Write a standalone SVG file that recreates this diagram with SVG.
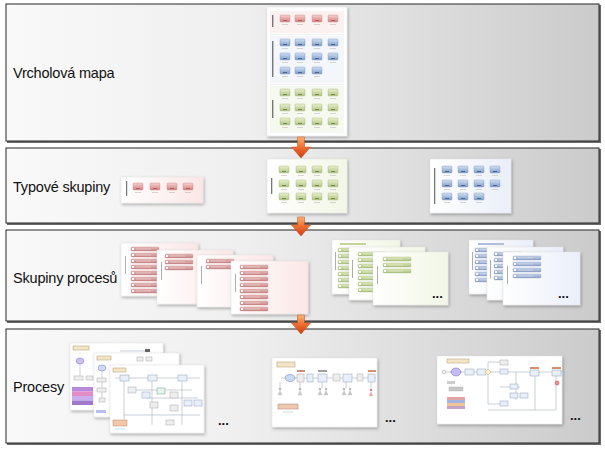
<svg xmlns="http://www.w3.org/2000/svg" xmlns:xlink="http://www.w3.org/1999/xlink" width="605" height="452" viewBox="0 0 605 452">
<style>
.band{fill:url(#bandG);stroke:#262626;stroke-width:1}
.bsh{fill:#6a6a6a}
.lbl{font-family:"Liberation Sans",Arial,sans-serif;font-size:14.5px;fill:#111;letter-spacing:-0.2px}
.dots{font-family:"Liberation Sans",Arial,sans-serif;font-size:13px;font-weight:bold;fill:#111}
.page{fill:#fff;stroke:#e2e2e2;stroke-width:0.5;filter:url(#sh)}
.vbar{fill:#777}
.fl{stroke:#aab4be;stroke-width:0.6;fill:none}
.bx{fill:#e8eff8;stroke:#8aa0bc;stroke-width:0.5}
.gx{fill:#eeeeee;stroke:#a8a8a8;stroke-width:0.5}
.tag{fill:#f3e6c8;stroke:#b09868;stroke-width:0.5}
.cap{stroke:#c4c4c4;stroke-width:0.7}
.arrow{fill:url(#arG);stroke:#c8481a;stroke-width:0.5}
</style>
<defs>
<linearGradient id="bandG" x1="0" y1="0" x2="1" y2="0">
<stop offset="0" stop-color="#f9f9f9"/><stop offset="0.4" stop-color="#efefef"/><stop offset="1" stop-color="#cbcbcb"/>
</linearGradient>
<linearGradient id="arG" x1="0" y1="0" x2="0" y2="1">
<stop offset="0" stop-color="#f7b47a"/><stop offset="0.45" stop-color="#f07434"/><stop offset="1" stop-color="#cf3a12"/>
</linearGradient>
<linearGradient id="gR" x1="0" y1="0" x2="0" y2="1"><stop offset="0" stop-color="#f8d0d0"/><stop offset="1" stop-color="#d88080"/></linearGradient>
<linearGradient id="gB" x1="0" y1="0" x2="0" y2="1"><stop offset="0" stop-color="#d2e0f2"/><stop offset="1" stop-color="#7e9cca"/></linearGradient>
<linearGradient id="gG" x1="0" y1="0" x2="0" y2="1"><stop offset="0" stop-color="#e8f0cc"/><stop offset="1" stop-color="#b0c486"/></linearGradient>
<linearGradient id="pR" x1="0" y1="0" x2="1" y2="0"><stop offset="0" stop-color="#ffffff"/><stop offset="1" stop-color="#fbe6e6"/></linearGradient>
<linearGradient id="pG" x1="0" y1="0" x2="1" y2="0"><stop offset="0" stop-color="#ffffff"/><stop offset="1" stop-color="#f2f6e6"/></linearGradient>
<linearGradient id="pB" x1="0" y1="0" x2="1" y2="0"><stop offset="0" stop-color="#ffffff"/><stop offset="1" stop-color="#eaeff8"/></linearGradient>
<linearGradient id="bR" x1="0" y1="0" x2="0" y2="1"><stop offset="0" stop-color="#e8baba"/><stop offset="1" stop-color="#c88686"/></linearGradient>
<linearGradient id="bG" x1="0" y1="0" x2="0" y2="1"><stop offset="0" stop-color="#dce8b8"/><stop offset="1" stop-color="#aac07e"/></linearGradient>
<linearGradient id="bB" x1="0" y1="0" x2="0" y2="1"><stop offset="0" stop-color="#c8d4ea"/><stop offset="1" stop-color="#8ca0c8"/></linearGradient>
<filter id="sh" x="-20%" y="-20%" width="140%" height="140%">
<feDropShadow dx="1" dy="1.5" stdDeviation="1.6" flood-color="#000" flood-opacity="0.3"/>
</filter>
<g id="icR"><rect x="0" y="0" width="10" height="7" rx="1" fill="url(#gR)" stroke="#c88484" stroke-width="0.4"/><rect x="3" y="5" width="4" height="1" fill="#a06868"/><line x1="2" y1="9.5" x2="8" y2="9.5" class="cap"/></g>
<g id="icB"><rect x="0" y="0" width="10" height="7" rx="1" fill="url(#gB)" stroke="#7890b8" stroke-width="0.4"/><rect x="3" y="5" width="4" height="1" fill="#506488"/><line x1="2" y1="9.5" x2="8" y2="9.5" class="cap"/></g>
<g id="icG"><rect x="0" y="0" width="10" height="7" rx="1" fill="url(#gG)" stroke="#a2b47a" stroke-width="0.4"/><rect x="3" y="5" width="4" height="1" fill="#768a50"/><line x1="2" y1="9.5" x2="8" y2="9.5" class="cap"/></g>
<g id="barR"><rect x="0" y="0" width="28" height="4" rx="1" fill="url(#bR)" stroke="#b87878" stroke-width="0.3"/><rect x="1" y="1" width="2" height="2" fill="#fff"/><line x1="5" y1="2" x2="20" y2="2" stroke="#f6e4e4" stroke-width="0.5"/></g>
<g id="barG"><rect x="0" y="0" width="28" height="4" rx="1" fill="url(#bG)" stroke="#98ac6c" stroke-width="0.3"/><rect x="1" y="1" width="2" height="2" fill="#fff"/><line x1="5" y1="2" x2="20" y2="2" stroke="#f0f6e0" stroke-width="0.5"/></g>
<g id="barB"><rect x="0" y="0" width="28" height="4" rx="1" fill="url(#bB)" stroke="#7a8eb8" stroke-width="0.3"/><rect x="1" y="1" width="2" height="2" fill="#fff"/><line x1="5" y1="2" x2="20" y2="2" stroke="#eaeff8" stroke-width="0.5"/></g>
<g id="fig"><circle cx="0" cy="0" r="1.3" fill="#bbb"/><path d="M-2,6 L0,1.5 L2,6 Z" fill="#ccc" stroke="#aaa" stroke-width="0.3"/></g>
</defs>

<!-- Band 1 -->
<g id="band-vrcholova-mapa">
<rect class="bsh" x="7" y="5" width="594" height="138"/>
<rect class="band" x="6" y="4" width="593" height="137"/>
<text class="lbl" x="13" y="78">Vrcholová mapa</text>
<g id="top-map-page">
<rect class="page" x="267" y="7" width="80" height="129"/>
<rect x="270" y="11" width="74" height="22" fill="#fcf1f1"/>
<rect x="270" y="36" width="74" height="47" fill="#f3f6fb"/>
<rect x="270" y="86" width="74" height="47" fill="#f6f9ef"/>
<line x1="270" y1="34.5" x2="344" y2="34.5" stroke="#e4e4e4" stroke-width="0.6"/>
<line x1="270" y1="84.5" x2="344" y2="84.5" stroke="#e4e4e4" stroke-width="0.6"/>
<rect class="vbar" x="272" y="15" width="1.4" height="12"/>
<rect class="vbar" x="272" y="41" width="1.4" height="36"/>
<rect class="vbar" x="272" y="100" width="1.4" height="18"/>
<use href="#icR" x="280" y="15"/><use href="#icR" x="295" y="15"/><use href="#icR" x="312" y="15"/><use href="#icR" x="328" y="15"/>
<use href="#icB" x="280" y="39"/><use href="#icB" x="295" y="39"/><use href="#icB" x="312" y="39"/><use href="#icB" x="328" y="39"/>
<use href="#icB" x="280" y="53"/><use href="#icB" x="295" y="53"/><use href="#icB" x="312" y="53"/><use href="#icB" x="328" y="53"/>
<use href="#icB" x="280" y="67"/><use href="#icB" x="295" y="67"/><use href="#icB" x="312" y="67"/>
<use href="#icG" x="280" y="89"/><use href="#icG" x="295" y="89"/><use href="#icG" x="312" y="89"/><use href="#icG" x="328" y="89"/>
<use href="#icG" x="280" y="104"/><use href="#icG" x="295" y="104"/><use href="#icG" x="312" y="104"/><use href="#icG" x="328" y="104"/>
<use href="#icG" x="280" y="118"/><use href="#icG" x="295" y="118"/><use href="#icG" x="312" y="118"/><use href="#icG" x="328" y="118"/>
</g>
</g>

<!-- Band 2 -->
<g id="band-typove-skupiny">
<rect class="bsh" x="7" y="149" width="594" height="76"/>
<rect class="band" x="6" y="148" width="593" height="75"/>
<text class="lbl" x="13" y="192">Typové skupiny</text>
<g id="group-red">
<rect class="page" x="121" y="177" width="82" height="26" style="fill:url(#pR)"/>
<rect class="vbar" x="126" y="181" width="1.2" height="15"/>
<use href="#icR" x="133" y="183"/><use href="#icR" x="150" y="183"/><use href="#icR" x="167" y="183"/><use href="#icR" x="183" y="183"/>
</g>
<g id="group-green">
<rect class="page" x="267" y="159" width="80" height="54" style="fill:url(#pG)"/>
<rect class="vbar" x="271" y="178" width="1.3" height="16"/>
<use href="#icG" x="279" y="166"/><use href="#icG" x="296" y="166"/><use href="#icG" x="312" y="166"/><use href="#icG" x="328" y="166"/>
<use href="#icG" x="279" y="180"/><use href="#icG" x="296" y="180"/><use href="#icG" x="312" y="180"/><use href="#icG" x="328" y="180"/>
<use href="#icG" x="279" y="193"/><use href="#icG" x="296" y="193"/><use href="#icG" x="312" y="193"/><use href="#icG" x="328" y="193"/>
</g>
<g id="group-blue">
<rect class="page" x="430" y="159" width="81" height="54" style="fill:url(#pB)"/>
<rect class="vbar" x="434" y="168" width="1.3" height="36"/>
<use href="#icB" x="442" y="166"/><use href="#icB" x="458" y="166"/><use href="#icB" x="474" y="166"/><use href="#icB" x="490" y="166"/>
<use href="#icB" x="442" y="180"/><use href="#icB" x="458" y="180"/><use href="#icB" x="474" y="180"/><use href="#icB" x="490" y="180"/>
<use href="#icB" x="442" y="193"/><use href="#icB" x="458" y="193"/><use href="#icB" x="474" y="193"/>
</g>
</g>

<!-- Band 3 -->
<g id="band-skupiny-procesu">
<rect class="bsh" x="7" y="231" width="594" height="92"/>
<rect class="band" x="6" y="230" width="593" height="91"/>
<text class="lbl" x="13" y="283">Skupiny procesů</text>
<g id="proc-groups-red">
<rect class="page" x="121" y="243" width="77" height="53" style="fill:url(#pR)"/>
<rect class="vbar" x="125" y="256" width="0.8" height="18" style="fill:#999"/>
<use href="#barR" x="131" y="247"/><use href="#barR" x="131" y="253"/><use href="#barR" x="131" y="259"/><use href="#barR" x="131" y="265"/><use href="#barR" x="131" y="271"/><use href="#barR" x="131" y="277"/><use href="#barR" x="131" y="283"/><use href="#barR" x="131" y="289"/>
<rect class="page" x="157" y="250" width="76" height="54" style="fill:url(#pR)"/>
<rect class="vbar" x="161" y="262" width="0.8" height="18" style="fill:#999"/>
<use href="#barR" x="165" y="254"/><use href="#barR" x="165" y="260"/><use href="#barR" x="165" y="266"/>
<rect class="page" x="197" y="255" width="76" height="52" style="fill:url(#pR)"/>
<rect class="vbar" x="201" y="266" width="0.8" height="18" style="fill:#999"/>
<use href="#barR" x="206" y="259"/><use href="#barR" x="206" y="265"/>
<rect class="page" x="231" y="261" width="77" height="53" style="fill:url(#pR)"/>
<rect class="vbar" x="235" y="274" width="0.8" height="18" style="fill:#999"/>
<use href="#barR" x="240" y="265"/><use href="#barR" x="240" y="271"/><use href="#barR" x="240" y="277"/><use href="#barR" x="240" y="283"/><use href="#barR" x="240" y="289"/><use href="#barR" x="240" y="295"/><use href="#barR" x="240" y="301"/><use href="#barR" x="240" y="307"/>
</g>
<g id="proc-groups-green">
<rect class="page" x="332" y="240" width="68" height="54" style="fill:url(#pG)"/>
<rect class="vbar" x="335" y="252" width="0.8" height="18" style="fill:#999"/>
<rect x="340" y="243" width="26" height="2" fill="#c4d49c"/>
<use href="#barG" x="338" y="248"/><use href="#barG" x="338" y="254"/><use href="#barG" x="338" y="260"/><use href="#barG" x="338" y="266"/><use href="#barG" x="338" y="272"/><use href="#barG" x="338" y="278"/><use href="#barG" x="338" y="284"/>
<rect class="page" x="349" y="247" width="76" height="53" style="fill:url(#pG)"/>
<rect class="vbar" x="352" y="260" width="0.8" height="18" style="fill:#999"/>
<use href="#barG" x="358" y="252"/><use href="#barG" x="358" y="258"/><use href="#barG" x="358" y="264"/><use href="#barG" x="358" y="270"/><use href="#barG" x="358" y="276"/><use href="#barG" x="358" y="282"/><use href="#barG" x="358" y="288"/>
<rect class="page" x="373" y="252" width="75" height="53" style="fill:url(#pG)"/>
<rect class="vbar" x="377" y="266" width="0.8" height="18" style="fill:#999"/>
<use href="#barG" x="383" y="257"/><use href="#barG" x="383" y="263"/><use href="#barG" x="383" y="269"/>
<text class="dots" x="432" y="298">...</text>
</g>
<g id="proc-groups-blue">
<rect class="page" x="469" y="240" width="64" height="54" style="fill:url(#pB)"/>
<rect class="vbar" x="472" y="252" width="0.8" height="18" style="fill:#999"/>
<rect x="478" y="243" width="26" height="2" fill="#b0bedc"/>
<use href="#barB" x="475" y="248"/><use href="#barB" x="475" y="254"/><use href="#barB" x="475" y="260"/><use href="#barB" x="475" y="266"/><use href="#barB" x="475" y="272"/><use href="#barB" x="475" y="278"/>
<rect class="page" x="487" y="247" width="76" height="53" style="fill:url(#pB)"/>
<rect class="vbar" x="490" y="260" width="0.8" height="18" style="fill:#999"/>
<use href="#barB" x="494" y="252"/><use href="#barB" x="494" y="258"/><use href="#barB" x="494" y="264"/><use href="#barB" x="494" y="270"/><use href="#barB" x="494" y="276"/>
<rect class="page" x="503" y="252" width="77" height="53" style="fill:url(#pB)"/>
<rect class="vbar" x="507" y="266" width="0.8" height="18" style="fill:#999"/>
<use href="#barB" x="513" y="256"/><use href="#barB" x="513" y="262"/><use href="#barB" x="513" y="268"/><use href="#barB" x="513" y="274"/>
<text class="dots" x="558" y="298">...</text>
</g>
</g>

<!-- Band 4 -->
<g id="band-procesy">
<rect class="bsh" x="7" y="330" width="594" height="115"/>
<rect class="band" x="6" y="329" width="593" height="114"/>
<text class="lbl" x="13" y="392">Procesy</text>
<g id="processes-stack">
<rect class="page" x="70" y="343" width="93" height="67"/>
<rect class="tag" x="73" y="346" width="16" height="4"/>
<ellipse cx="80" cy="361" rx="4" ry="3" fill="#cfc0f2" stroke="#7d6cc0" stroke-width="0.5"/>
<line class="fl" x1="80" y1="364" x2="80" y2="376"/>
<rect class="gx" x="74" y="376" width="9" height="4"/>
<rect class="gx" x="86" y="376" width="7" height="4"/>
<rect x="145" y="349" width="5" height="3" fill="#666"/>
<line class="fl" x1="120" y1="351" x2="145" y2="351"/>
<rect x="72" y="387" width="21" height="4.5" fill="#b888dc"/>
<rect x="72" y="391.5" width="21" height="4.5" fill="#e68cc4"/>
<rect x="72" y="396" width="21" height="4.5" fill="#c8aef0"/>
<rect x="72" y="400.5" width="21" height="4.5" fill="#a078cc"/>
<rect class="page" x="94" y="353" width="85" height="64"/>
<rect class="tag" x="97" y="356" width="14" height="4"/>
<ellipse cx="102" cy="368" rx="4" ry="3" fill="#d2d8f4" stroke="#7080c0" stroke-width="0.5"/>
<rect class="gx" x="137" y="357" width="6" height="4"/>
<rect class="gx" x="146" y="357" width="6" height="4"/>
<line class="fl" x1="102" y1="371" x2="102" y2="400"/>
<rect class="gx" x="97" y="378" width="9" height="4"/>
<rect class="gx" x="97" y="388" width="9" height="4"/>
<rect class="gx" x="99" y="398" width="6" height="4"/>
<rect x="96" y="410" width="10" height="3" fill="#b8bef0"/>
<rect class="page" x="110" y="365" width="94" height="68"/>
<rect class="tag" x="113" y="368" width="13" height="4"/>
<path class="fl" d="M115,378 H200 M124,381 V425 M152,381 V425 M182,381 V425 M124,415 H200 M132,390 H192 M146,398 H198"/>
<rect class="bx" x="120" y="375" width="9" height="6"/>
<rect class="bx" x="148" y="375" width="9" height="6"/>
<rect class="bx" x="178" y="375" width="9" height="6"/>
<rect class="gx" x="128" y="387" width="8" height="6"/>
<rect class="bx" x="142" y="392" width="8" height="6"/>
<rect x="157" y="388" width="8" height="6" fill="#e6f2ec" stroke="#6aa48a" stroke-width="0.5"/>
<rect class="gx" x="170" y="392" width="8" height="6"/>
<rect class="bx" x="184" y="400" width="8" height="6"/>
<rect class="bx" x="194" y="400" width="8" height="6"/>
<rect class="gx" x="150" y="402" width="8" height="6"/>
<rect class="gx" x="170" y="405" width="8" height="6"/>
<rect class="gx" x="166" y="420" width="8" height="5"/>
<rect x="113" y="420" width="14" height="6" fill="#f2c6a6" stroke="#c08a68" stroke-width="0.5"/>
<line class="cap" x1="115" y1="429" x2="125" y2="429" style="stroke:#9ad0e0"/>
<text class="dots" x="218" y="425">...</text>
</g>
<g id="process-middle">
<rect class="page" x="272" y="358" width="105" height="69"/>
<rect class="tag" x="277" y="362" width="18" height="5"/>
<line class="fl" x1="281" y1="378" x2="376" y2="378"/>
<path class="fl" d="M280,388 V382 M300,388 V382 M322,388 V382 M346,388 V382 M371,388 V382"/>
<ellipse cx="290" cy="378" rx="5" ry="3.5" fill="#cadaf2" stroke="#6080b0" stroke-width="0.5"/>
<rect x="297" y="370" width="8" height="2" fill="#d08c70"/>
<rect class="gx" x="297" y="374" width="7" height="8"/>
<rect class="bx" x="307" y="374" width="6" height="8"/>
<rect x="318" y="370" width="9" height="2" fill="#a0a0a0"/>
<rect class="bx" x="318" y="374" width="9" height="8"/>
<rect class="gx" x="333" y="374" width="7" height="7"/>
<rect class="bx" x="343" y="374" width="9" height="8"/>
<rect class="gx" x="357" y="374" width="6" height="7"/>
<rect x="368" y="370" width="8" height="2" fill="#d8906a"/>
<rect class="bx" x="368" y="374" width="7" height="8"/>
<use href="#fig" x="280" y="389"/>
<use href="#fig" x="300" y="389"/>
<use href="#fig" x="320" y="389"/>
<use href="#fig" x="326" y="389"/>
<use href="#fig" x="344" y="389"/>
<use href="#fig" x="350" y="389"/>
<circle cx="371" cy="390" r="1.3" fill="#e08080"/>
<path d="M369,396 L371,391.5 L373,396 Z" fill="#f0a0a0"/>
<rect x="278" y="404" width="20" height="5" fill="#f0c8b0" stroke="#b08070" stroke-width="0.5"/>
<line class="cap" x1="283" y1="412" x2="293" y2="412"/>
<text class="dots" x="385" y="422">...</text>
</g>
<g id="process-right">
<rect class="page" x="437" y="356" width="125" height="68"/>
<rect class="tag" x="447" y="359" width="22" height="4"/>
<path class="fl" d="M446,372 H565 M488,362 V404 M488,362 H500 M488,404 H500 M500,387 H520 M535,375 V410 M556,375 V410 M488,410 H556 M516,372 V400"/>
<circle cx="444" cy="372" r="1.8" fill="#fff" stroke="#888" stroke-width="0.5"/>
<ellipse cx="456" cy="372" rx="5" ry="4" fill="#c4bcf2" stroke="#7060c0" stroke-width="0.5"/>
<rect class="bx" x="465" y="369" width="9" height="6"/>
<rect class="bx" x="477" y="369" width="9" height="6"/>
<path d="M488,369 L491,372 L488,375 L485,372 Z" fill="#fff4c0" stroke="#b0a050" stroke-width="0.4"/>
<rect class="gx" x="500" y="360" width="8" height="5"/>
<rect class="bx" x="500" y="369" width="8" height="5"/>
<rect class="bx" x="510" y="384" width="8" height="5"/>
<rect class="bx" x="510" y="393" width="8" height="5"/>
<rect class="bx" x="520" y="393" width="8" height="5"/>
<rect class="bx" x="500" y="401" width="8" height="5"/>
<rect x="530" y="367" width="9" height="2" fill="#d8906a"/>
<rect class="bx" x="530" y="370" width="9" height="6"/>
<rect x="552" y="367" width="9" height="2" fill="#d8906a"/>
<rect class="bx" x="552" y="370" width="9" height="6"/>
<circle cx="557" cy="383" r="2" fill="#f39090" stroke="#c03030" stroke-width="0.5"/>
<rect x="447" y="381" width="8" height="3" fill="#ccc"/>
<rect x="449" y="387" width="14" height="4" fill="#c8c8c8" stroke="#999" stroke-width="0.3"/>
<rect x="447" y="397" width="18" height="3" fill="#e4a4a4"/>
<rect x="447" y="400" width="18" height="3" fill="#a4b4e4"/>
<rect x="447" y="403" width="18" height="3" fill="#f2c494"/>
<rect x="447" y="406" width="18" height="3" fill="#c4a4c8"/>
<text class="dots" x="570" y="420">...</text>
</g>
</g>

<!-- Connectors -->
<g id="connectors">
<path class="arrow" d="M297.5,137 H304.5 V147 H310.5 L301,158 L291.5,147 H297.5 Z"/>
<path class="arrow" d="M297.5,217 H304.5 V225 H310.5 L301,236 L291.5,225 H297.5 Z"/>
<path class="arrow" d="M297.5,315 H304.5 V323 H310.5 L301,334 L291.5,323 H297.5 Z"/>
</g>
</svg>
